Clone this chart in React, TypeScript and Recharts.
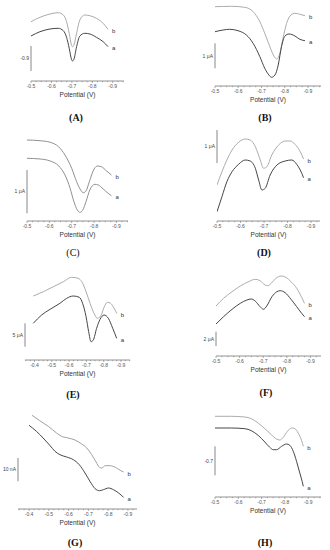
import React from 'react';
import { LineChart, Line, XAxis, YAxis, ReferenceLine, ReferenceDot } from 'recharts';

// potential (V) and current (a.u., height above the baseline)
const potA = [-0.5, -0.544, -0.593, -0.633, -0.658, -0.674, -0.687, -0.698, -0.703, -0.71, -0.723, -0.739, -0.763, -0.788, -0.82, -0.853, -0.877];
const curA_b = [59.3, 63.7, 67, 68.3, 66, 59.3, 47.7, 36, 34.3, 36, 47.7, 61, 66, 65.3, 62.7, 57.7, 51.7];
const curA_a = [45, 49.3, 52, 52.7, 50.3, 43.7, 32.7, 21.7, 20, 21.7, 34.3, 45, 47.7, 47, 43.7, 39.3, 34.3];

const potB_b = [-0.5, -0.571, -0.628, -0.664, -0.693, -0.714, -0.736, -0.755, -0.766, -0.779, -0.794, -0.808, -0.827, -0.844, -0.865, -0.887];
const curB_b = [79.3, 79.7, 78.7, 74.3, 64.3, 52.7, 39.3, 29.3, 27, 32.7, 49.3, 62.7, 71, 72.7, 71.7, 70.3];
const potB_a = [-0.5, -0.535, -0.563, -0.599, -0.635, -0.664, -0.693, -0.714, -0.732, -0.743, -0.758, -0.772, -0.786, -0.801, -0.818, -0.844, -0.865, -0.887];
const curB_a = [54.3, 56, 56.7, 55.3, 51, 42.7, 29.3, 17.7, 11, 8.7, 11, 21, 39.3, 50, 52, 50, 46.7, 45.3];

const potC_b = [-0.5, -0.559, -0.604, -0.641, -0.67, -0.7, -0.722, -0.74, -0.752, -0.764, -0.779, -0.796, -0.814, -0.833, -0.856, -0.878];
const curC_b = [81, 80.3, 78.7, 74.3, 66, 52.7, 39.3, 31, 28.3, 30, 39.3, 50, 55, 54.3, 50, 46];
const potC_a = [-0.5, -0.559, -0.604, -0.641, -0.67, -0.693, -0.71, -0.725, -0.737, -0.749, -0.764, -0.781, -0.804, -0.819, -0.841, -0.863, -0.878];
const curC_a = [62.7, 62, 60, 55.3, 46, 32.7, 19.3, 11, 8.7, 10.7, 19.3, 31, 36.7, 36, 32, 27.7, 25.3];

const potD_b = [-0.5, -0.521, -0.542, -0.564, -0.592, -0.62, -0.641, -0.663, -0.684, -0.698, -0.712, -0.733, -0.762, -0.79, -0.811, -0.832, -0.854, -0.868];
const curD_b = [36, 49.3, 61, 71, 78.7, 82, 81, 74.3, 61, 52.7, 54.3, 66, 76, 80, 80, 76.7, 69.3, 62];
const potD_a = [-0.5, -0.521, -0.542, -0.564, -0.592, -0.62, -0.641, -0.663, -0.677, -0.691, -0.705, -0.726, -0.755, -0.79, -0.818, -0.839, -0.854, -0.868];
const curD_a = [9.3, 24.3, 39.3, 49.3, 56.7, 61, 60, 52.7, 41, 31, 32.7, 46, 56, 60, 61, 56.7, 51, 43.3];

const potE_b = [-0.393, -0.451, -0.509, -0.567, -0.615, -0.653, -0.673, -0.698, -0.721, -0.744, -0.763, -0.783, -0.802, -0.821, -0.84, -0.86, -0.875];
const curE_b = [64, 68.3, 73.3, 78.3, 82.7, 81.7, 78.3, 68.3, 56.7, 46.7, 41.7, 44, 52.7, 57.7, 56.7, 51.7, 46.7];
const potE_a = [-0.393, -0.441, -0.49, -0.547, -0.586, -0.624, -0.659, -0.678, -0.698, -0.713, -0.727, -0.74, -0.759, -0.779, -0.802, -0.827, -0.852, -0.875];
const curE_a = [36.7, 45, 50.7, 56.7, 61.7, 64, 62.7, 56.7, 43.3, 28.3, 18.3, 20, 31.7, 40.7, 45, 41.7, 31.7, 21.7];

const potF_b = [-0.5, -0.532, -0.568, -0.603, -0.638, -0.666, -0.687, -0.708, -0.72, -0.734, -0.754, -0.776, -0.796, -0.818, -0.842, -0.863, -0.875];
const curF_b = [50, 57.7, 64.3, 70, 74.3, 76.7, 75.3, 71, 70.3, 72.7, 77.7, 80, 78.7, 74.3, 67.7, 58.7, 52.7];
const potF_a = [-0.5, -0.532, -0.568, -0.603, -0.631, -0.649, -0.666, -0.687, -0.701, -0.715, -0.737, -0.758, -0.772, -0.793, -0.818, -0.842, -0.863, -0.875];
const curF_a = [32, 39.3, 46.7, 52.7, 56, 57, 55, 49.3, 46.7, 50, 59.3, 64.3, 65.3, 63.3, 56.7, 49.3, 42.7, 39.3];

const potG_b = [-0.415, -0.454, -0.497, -0.539, -0.564, -0.598, -0.632, -0.666, -0.692, -0.717, -0.739, -0.756, -0.768, -0.785, -0.81, -0.836, -0.861, -0.878];
const curG_b = [93.7, 88.3, 82.7, 76, 72.7, 71, 69, 65, 61, 54.3, 47, 41.7, 41, 43.3, 43.3, 41.7, 38.7, 37];
const potG_a = [-0.4, -0.437, -0.471, -0.505, -0.531, -0.556, -0.59, -0.624, -0.654, -0.683, -0.708, -0.734, -0.756, -0.776, -0.802, -0.827, -0.853, -0.878];
const curG_a = [83.7, 77.7, 71, 63.7, 57.7, 54.3, 52, 49.3, 44.3, 36, 27.7, 20.3, 18.3, 19.3, 21, 19.3, 16, 11.7];

const potH_b = [-0.5, -0.57, -0.628, -0.656, -0.685, -0.714, -0.742, -0.764, -0.778, -0.793, -0.811, -0.829, -0.843, -0.857, -0.872, -0.879];
const curH_b = [80.7, 80.7, 80, 78.3, 74, 68.3, 62.3, 58, 57, 59.7, 65.7, 69, 68.3, 64, 56.3, 50.7];
const potH_a = [-0.5, -0.57, -0.628, -0.656, -0.685, -0.714, -0.735, -0.75, -0.764, -0.786, -0.807, -0.821, -0.836, -0.85, -0.864, -0.874, -0.879];
const curH_a = [69, 69, 68.3, 66.3, 61.7, 55, 49.7, 47.3, 47.3, 50.7, 53, 51.7, 45.7, 35.7, 24, 15.7, 10.7];

const zip = (pot: number[], cur: number[]) => pot.map((v, i) => ({ v, i: cur[i] }));

const DARK = '#464646';
const LIGHT = '#acacac';
const MID = '#909090';

type PanelCfg = {
  letter: string;
  bold: boolean;
  box: number;
  plotL: number;
  plotR: number;
  top: number;
  axisY: number;
  dom: [number, number];
  a: { v: number; i: number }[];
  b: { v: number; i: number }[];
  colA: string;
  colB: string;
  bar: [number, number];
  barLabel: string;
  letterX: number;
  letterY: number;
};

const panels: PanelCfg[] = [
  { letter: '(A)', bold: true, box: 0, plotL: 31, plotR: 124, top: 0, axisY: 81, dom: [-0.955, -0.5], a: zip(potA, curA_a), b: zip(potA, curA_b), colA: DARK, colB: LIGHT, bar: [35, 10], barLabel: '-0.9', letterX: 76, letterY: 117 },
  { letter: '(B)', bold: true, box: 165, plotL: 215, plotR: 321, top: 0, axisY: 86, dom: [-0.956, -0.5], a: zip(potB_a, curB_a), b: zip(potB_b, curB_b), colA: DARK, colB: LIGHT, bar: [42.7, 17.7], barLabel: '1 μA', letterX: 265, letterY: 117 },
  { letter: '(C)', bold: false, box: 0, plotL: 27, plotR: 128, top: 135, axisY: 221, dom: [-0.952, -0.5], a: zip(potC_a, curC_a), b: zip(potC_b, curC_b), colA: MID, colB: MID, bar: [51, 7.7], barLabel: '1 μA', letterX: 73, letterY: 252 },
  { letter: '(D)', bold: true, box: 165, plotL: 217, plotR: 320, top: 128, axisY: 221, dom: [-0.938, -0.5], a: zip(potD_a, curD_a), b: zip(potD_b, curD_b), colA: DARK, colB: LIGHT, bar: [91, 58], barLabel: '1 μA', letterX: 264, letterY: 252 },
  { letter: '(E)', bold: true, box: 0, plotL: 25, plotR: 130, top: 270, axisY: 360, dom: [-0.952, -0.345], a: zip(potE_a, curE_a), b: zip(potE_b, curE_b), colA: DARK, colB: LIGHT, bar: [36.7, 13.3], barLabel: '5 μA', letterX: 73, letterY: 394 },
  { letter: '(F)', bold: true, box: 165, plotL: 216, plotR: 321, top: 270, axisY: 356, dom: [-0.945, -0.5], a: zip(potF_a, curF_a), b: zip(potF_b, curF_b), colA: DARK, colB: LIGHT, bar: [24.3, 10], barLabel: '2 μA', letterX: 266, letterY: 392 },
  { letter: '(G)', bold: true, box: 0, plotL: 18, plotR: 137, top: 405, axisY: 509, dom: [-0.946, -0.344], a: zip(potG_a, curG_a), b: zip(potG_b, curG_b), colA: DARK, colB: '#a0a0a0', bar: [51, 27.7], barLabel: '10 nA', letterX: 75, letterY: 542 },
  { letter: '(H)', bold: true, box: 165, plotL: 215, plotR: 321, top: 405, axisY: 497, dom: [-0.955, -0.5], a: zip(potH_a, curH_a), b: zip(potH_b, curH_b), colA: DARK, colB: LIGHT, bar: [50.7, 21.7], barLabel: '-0.7', letterX: 265, letterY: 542 },
];

// major ticks every 0.1 V, minor every 0.025 V
const makeTicks = (dom: [number, number]) => {
  const out: number[] = [];
  for (let k = 0; k <= 30; k++) {
    const v = Math.round((-0.3 - k * 0.025) * 1000) / 1000;
    if (v <= dom[1] + 1e-9 && v >= dom[0] - 1e-9) out.push(v);
  }
  return out;
};

const Tick = (props: any) => {
  const { x, y, payload } = props;
  const v = payload.value as number;
  const major = Math.abs(v * 10 - Math.round(v * 10)) < 1e-6;
  return (
    <g>
      <line x1={x} x2={x} y1={y} y2={y + (major ? 2 : 1.2)} stroke="#777" strokeWidth={0.6} />
      {major && (
        <text x={x} y={y + 5.5} textAnchor="middle" dominantBaseline="middle" fontSize={5} fill="#555">
          {v.toFixed(1)}
        </text>
      )}
    </g>
  );
};

// small "a"/"b" tag right of the curve end
const endTag = (txt: string) => (lp: any) => {
  const vb = lp.viewBox || {};
  return (
    <text x={(vb.x ?? 0) + 4} y={(vb.y ?? 0) + 2} dominantBaseline="middle" fontSize={6} fill="#333" style={{ fill: '#333' }}>
      {txt}
    </text>
  );
};

const Panel = ({ p }: { p: PanelCfg }) => {
  const w = 165;
  const ymax = p.axisY - p.top;
  const h = ymax + 4 + 18;
  const lastA = p.a[p.a.length - 1];
  const lastB = p.b[p.b.length - 1];
  const xs = p.dom[1];
  return (
    <div style={{ position: 'absolute', left: p.box, top: p.top - 4 }}>
      <LineChart
        width={w}
        height={h}
        margin={{ top: 4, bottom: 2, left: p.plotL - p.box, right: p.box + w - p.plotR }}
      >
        <XAxis
          type="number"
          dataKey="v"
          domain={p.dom}
          reversed
          allowDataOverflow
          ticks={makeTicks(p.dom)}
          interval={0}
          tick={<Tick />}
          tickLine={false}
          tickSize={0}
          tickMargin={0}
          axisLine={{ stroke: '#777', strokeWidth: 0.8 }}
          height={16}
          label={{ value: 'Potential (V)', position: 'insideBottom', offset: 0, fontSize: 6.5, fill: '#333' }}
        />
        <YAxis hide type="number" domain={[0, ymax]} allowDataOverflow />
        <ReferenceLine
          segment={[{ x: xs, y: p.bar[0] }, { x: xs, y: p.bar[1] }]}
          stroke="#888"
          strokeWidth={1}
          ifOverflow="visible"
          label={{ value: p.barLabel, position: 'left', offset: 2, fontSize: 5, fill: '#444' }}
        />
        <Line data={p.b} dataKey="i" type="monotone" stroke={p.colB} strokeWidth={1} dot={false} isAnimationActive={false} />
        <Line data={p.a} dataKey="i" type="monotone" stroke={p.colA} strokeWidth={1} dot={false} isAnimationActive={false} />
        <ReferenceDot x={lastB.v} y={lastB.i} r={0} fill="none" stroke="none" ifOverflow="visible" label={endTag('b')} />
        <ReferenceDot x={lastA.v} y={lastA.i} r={0} fill="none" stroke="none" ifOverflow="visible" label={endTag('a')} />
      </LineChart>
    </div>
  );
};

export default function App() {
  return (
    <div style={{ position: 'absolute', left: 0, top: 0, width: 330, height: 550, background: '#fff', fontFamily: '"Liberation Sans", Arial, sans-serif', overflow: 'hidden' }}>
      {panels.map((p) => (
        <Panel key={p.letter} p={p} />
      ))}
      {panels.map((p) => (
        <div
          key={p.letter + 'l'}
          style={{
            position: 'absolute',
            left: p.letterX,
            top: p.letterY,
            transform: 'translate(-50%, -50%)',
            fontFamily: '"Liberation Serif", "Times New Roman", serif',
            fontWeight: p.bold ? 'bold' : 'normal',
            fontSize: 10,
            color: '#111',
            whiteSpace: 'nowrap',
          }}
        >
          {p.letter}
        </div>
      ))}
    </div>
  );
}
